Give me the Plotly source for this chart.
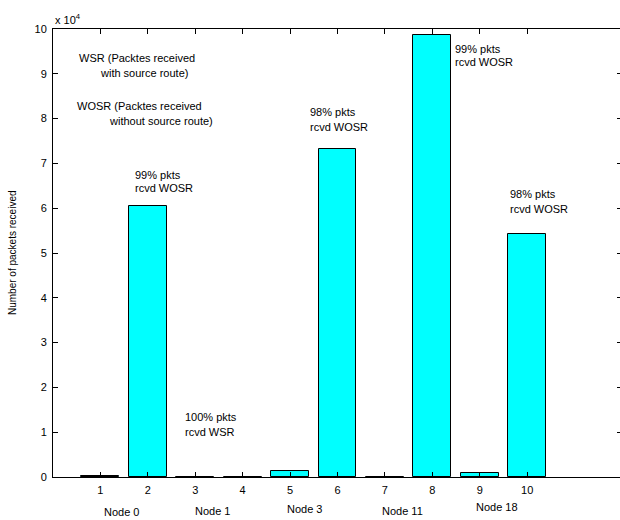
import plotly.graph_objects as go

# Data
bar_positions = [1, 2, 3, 4, 5, 6, 7, 8, 9, 10]
packets_received = [300, 60400, 0, 0, 1270, 73300, 0, 98660, 900, 54300]
y_tick_values = [0, 10000, 20000, 30000, 40000, 50000, 60000, 70000, 80000, 90000, 100000]
y_tick_labels = ["0", "1", "2", "3", "4", "5", "6", "7", "8", "9", "10"]
node_labels = ["Node 0", "Node 1", "Node 3", "Node 11", "Node 18"]
node_label_x = [1.45, 3.37, 5.31, 7.37, 9.37]
node_label_y = [-0.079, -0.077, -0.072, -0.075, -0.068]

# Layout helpers (screen pixel -> data)
X0, XS = 53.0, 47.44
Y0, YS = 477.5, 4.48e-3

def dx(px):
    return (px - X0) / XS

def dy(py):
    return (Y0 - py) / YS

FONT = "Liberation Sans, Arial, Helvetica, sans-serif"

fig = go.Figure()
fig.add_trace(go.Bar(
    x=bar_positions,
    y=packets_received,
    width=0.8,
    marker=dict(color="#00FFFF", line=dict(color="black", width=1)),
    showlegend=False,
))

texts = [
    ("WSR (Packtes received", 77, 58),
    ("with source route)", 98, 73),
    ("WOSR (Packtes received", 75, 106),
    ("without source route)", 107, 121),
    ("99% pkts", 133, 175),
    ("rcvd WOSR", 133, 188),
    ("100% pkts", 183, 417),
    ("rcvd WSR", 183, 432),
    ("98% pkts", 308, 112),
    ("rcvd WOSR", 308, 127),
    ("99% pkts", 453, 49),
    ("rcvd WOSR", 453, 62),
    ("98% pkts", 508, 194),
    ("rcvd WOSR", 508, 209),
]
annotations = []
for t, px, py in texts:
    annotations.append(dict(text=t, x=dx(px), y=dy(py), xref="x", yref="y",
                            xanchor="left", yanchor="middle", showarrow=False,
                            font=dict(family=FONT, size=11, color="black")))

for lab, xv, yv in zip(node_labels, node_label_x, node_label_y):
    annotations.append(dict(text=lab, x=xv, y=yv, xref="x", yref="paper",
                            xanchor="center", yanchor="middle", showarrow=False,
                            font=dict(family=FONT, size=11, color="black")))

annotations.append(dict(text="x 10<sup>4</sup>", x=0, y=(Y0 - 19) / 448.0,
                        xref="paper", yref="paper", xanchor="left", yanchor="middle",
                        showarrow=False, font=dict(family=FONT, size=11, color="black")))
annotations.append(dict(text="Number of packets received", x=(12 - X0) / 569.0, y=0.5,
                        xref="paper", yref="paper", xanchor="center", yanchor="middle",
                        textangle=-90, showarrow=False,
                        font=dict(family=FONT, size=10, color="black")))

# The right frame edge (x = 12) falls just outside the 620px window, as in the reference.
fig.update_layout(
    width=622, height=520,
    margin=dict(l=53, r=0, t=29, b=43),
    paper_bgcolor="white", plot_bgcolor="white",
    annotations=annotations,
    bargap=0,
    xaxis=dict(range=[0, 12], tickvals=bar_positions, ticks="inside", ticklen=5,
               tickcolor="black", showline=True, linecolor="black", linewidth=1,
               mirror="ticks", showgrid=False, zeroline=False, ticklabelstandoff=3,
               tickfont=dict(family=FONT, size=11, color="black")),
    yaxis=dict(range=[0, 100000], tickvals=y_tick_values, ticktext=y_tick_labels,
               ticks="inside", ticklen=5, tickcolor="black", showline=True,
               linecolor="black", linewidth=1, mirror="ticks", showgrid=False,
               zeroline=False, ticklabelstandoff=3,
               tickfont=dict(family=FONT, size=11, color="black")),
)

fig.write_html(
    "out.html",
    config={"displayModeBar": False},
    post_script="document.body.style.margin='0';"
                "document.documentElement.style.overflow='hidden';"
                "document.body.style.overflow='hidden';",
)
